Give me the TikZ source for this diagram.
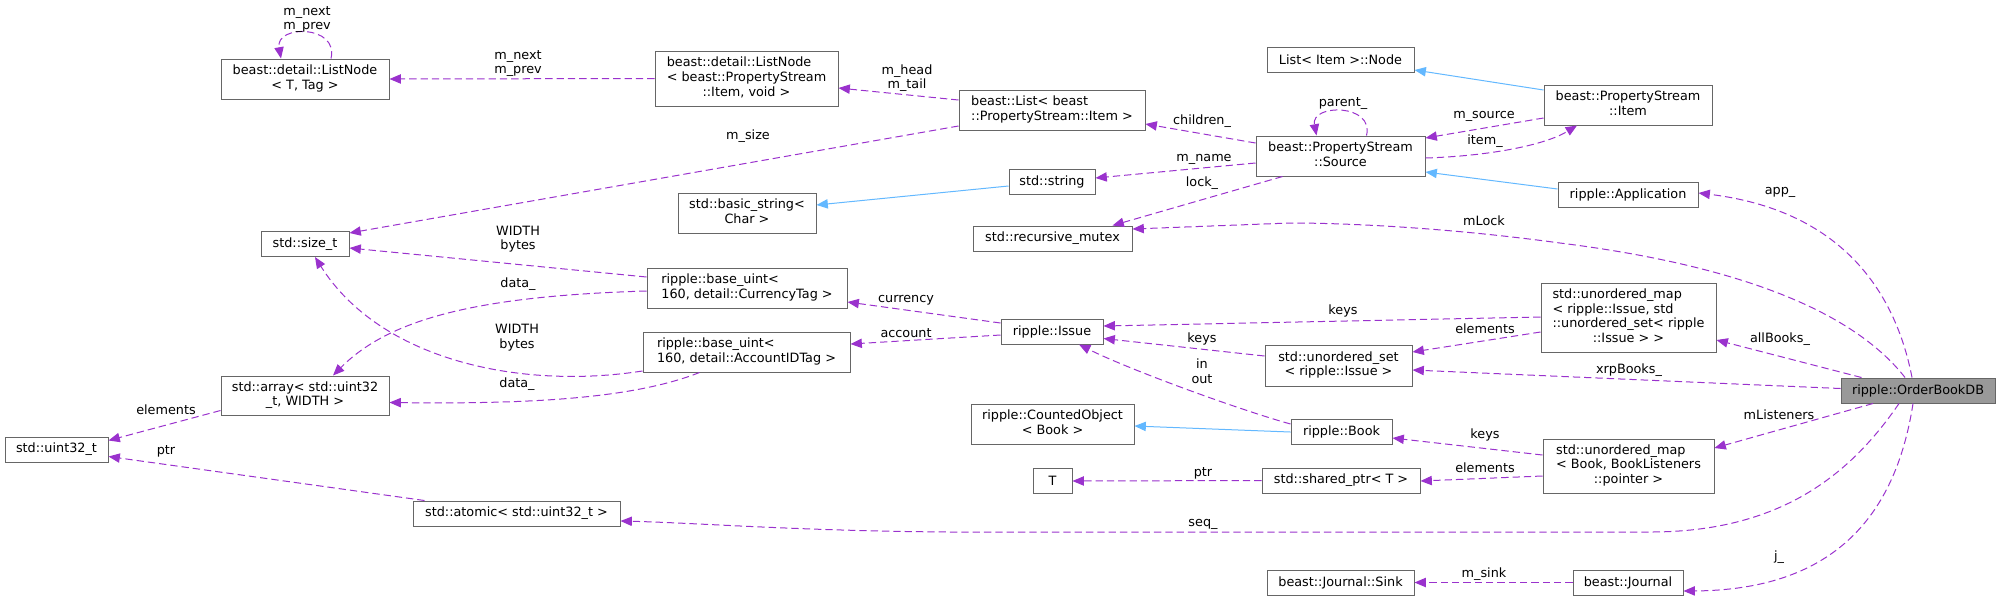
\documentclass[tikz,border=0pt]{standalone}
\usepackage{fontspec}
\setmainfont{DejaVu Sans}
\usetikzlibrary{arrows.meta,calc}

\definecolor{memberc}{HTML}{9A32CD}
\definecolor{inheritc}{HTML}{63B8FF}
\definecolor{boxline}{HTML}{666666}
\definecolor{boxfocus}{HTML}{999999}

\newcommand{\lastln}[1]{\multicolumn{1}{@{}c@{}}{#1}}
\newcommand{\clslines}[1]{\begin{tabular}{@{}l@{}}#1\end{tabular}}

\tikzset{
  cls/.style={draw=boxline, fill=white, line width=0.75pt, inner sep=0pt,
    font=\fontsize{9.6}{11}\selectfont},
  sz/.style 2 args={minimum width=#1*0.75pt, minimum height=#2*0.75pt},
  lbl/.style={inner sep=0pt, align=center, font=\fontsize{9.6}{11}\selectfont},
  member/.style={draw=memberc, line width=0.75pt, dash pattern=on 5.5pt off 3pt,
    -{Triangle[length=8.5pt,width=7pt]}},
  inherit/.style={draw=inheritc, line width=0.75pt,
    -{Triangle[length=8.5pt,width=7pt]}}
}

\begin{document}
\begin{tikzpicture}[x=0.75pt, y=-0.75pt]
\useasboundingbox (0,0) rectangle (2001,601);

% Classes, column by column
\node[cls, sz={103}{25}] (uint) at (56.5,449.5) {std::uint32\_t};

\node[cls, sz={168}{40}] (tListNode) at (305,79) {\clslines{beast::detail::ListNode\\\lastln{< T, Tag >}}};
\node[cls, sz={88}{25}] (sizeT) at (305,244) {std::size\_t};
\node[cls, sz={168}{39}] (stdArray) at (305,395.5) {\clslines{std::array< std::uint32\\\lastln{\_t, WIDTH >}}};

\node[cls, sz={207}{25}] (atomicU) at (516.5,513.5) {std::atomic< std::uint32\_t >};

\node[cls, sz={183}{55}] (itemListNode) at (746.5,78.5) {\clslines{beast::detail::ListNode\\< beast::PropertyStream\\\lastln{::Item, void >}}};
\node[cls, sz={138}{40}] (basicString) at (747,213) {\clslines{std::basic\_string<\\\lastln{Char >}}};
\node[cls, sz={200}{40}] (currencyUint) at (747,288) {\clslines{ripple::base\_uint<\\\lastln{160, detail::CurrencyTag >}}};
\node[cls, sz={207}{40}] (accountUint) at (746.5,352) {\clslines{ripple::base\_uint<\\\lastln{160, detail::AccountIDTag >}}};

\node[cls, sz={186}{40}] (itemList) at (1052,110) {\clslines{beast::List< beast\\\lastln{::PropertyStream::Item >}}};
\node[cls, sz={86}{25}] (stdString) at (1052,181.5) {std::string};
\node[cls, sz={159}{25}] (recMutex) at (1052.5,238.5) {std::recursive\_mutex};
\node[cls, sz={102}{25}] (issue) at (1052,331.5) {ripple::Issue};
\node[cls, sz={163}{40}] (countedBook) at (1052.5,424) {\clslines{ripple::CountedObject\\\lastln{< Book >}}};
\node[cls, sz={39}{25}] (tType) at (1052.5,481) {T};

\node[cls, sz={147}{25}] (itemNode) at (1340.5,59.5) {List< Item >::Node};
\node[cls, sz={169}{40}] (source) at (1340.5,156) {\clslines{beast::PropertyStream\\\lastln{::Source}}};
\node[cls, sz={147}{41}] (issueSet) at (1338.5,365.5) {\clslines{std::unordered\_set\\\lastln{< ripple::Issue >}}};
\node[cls, sz={101}{25}] (book) at (1341.5,431.5) {ripple::Book};
\node[cls, sz={158}{25}] (sharedPtr) at (1341,480.5) {std::shared\_ptr< T >};
\node[cls, sz={147}{25}] (journalSink) at (1340.5,582.5) {beast::Journal::Sink};

\node[cls, sz={168}{40}] (item) at (1628,105) {\clslines{beast::PropertyStream\\\lastln{::Item}}};
\node[cls, sz={140}{25}] (application) at (1628,194.5) {ripple::Application};
\node[cls, sz={175}{69}] (issueMap) at (1628.5,317.5) {\clslines{std::unordered\_map\\< ripple::Issue, std\\::unordered\_set< ripple\\\lastln{::Issue > >}}};
\node[cls, sz={171}{54}] (bookMap) at (1628.5,466) {\clslines{std::unordered\_map\\< Book, BookListeners\\\lastln{::pointer >}}};
\node[cls, sz={110}{25}] (journal) at (1628,582.5) {beast::Journal};

% the documented class
\node[cls, fill=boxfocus, sz={154}{25}] (orderBookDB) at (1918,390.5) {ripple::OrderBookDB};

% ListNode members
\draw[member] ($(tListNode.north)+(26,0)$) .. controls ($(tListNode.north)+(34,-34)$) and ($(tListNode.north)+(-30,-34)$) .. ($(tListNode.north)+(-24,0)$);
\node[lbl] (lblLoopNext) at (307,19.5) {m\_next\\m\_prev};
\draw[member] (itemListNode.west) -- (tListNode.east);
\node[lbl] (lblNext) at (518,63.5) {m\_next\\m\_prev};

% List and PropertyStream
\draw[member] ($(itemList.west)+(0,-10)$) -- ($(itemListNode.east)+(0,9.5)$);
\node[lbl] (lblHead) at (907,78) {m\_head\\m\_tail};
\draw[member] ($(itemList.west)+(0,16)$) -- ($(sizeT.east)+(0,-11)$);
\node[lbl] (lblSize) at (748,136) {m\_size};
\draw[member] ($(source.west)+(0,-13)$) -- ($(itemList.east)+(0,14)$);
\node[lbl] (lblChildren) at (1202,121) {children\_};
\draw[member] ($(source.north)+(26,0)$) .. controls ($(source.north)+(34,-32)$) and ($(source.north)+(-30,-32)$) .. ($(source.north)+(-24,0)$);
\node[lbl] (lblParent) at (1343,104) {parent\_};
\draw[member] ($(item.west)+(0,13)$) -- ($(source.east)+(0,-18)$);
\node[lbl] (lblSource) at (1484,116) {m\_source};
\draw[member] ($(source.east)+(0,2)$) .. controls (1490,156) and (1545,145) .. ($(item.south)+(-51,0)$);
\node[lbl] (lblItem) at (1485,141) {item\_};
\draw[inherit] ($(item.west)+(0,-15)$) -- ($(itemNode.east)+(0,10.5)$);
\draw[member] ($(source.west)+(0,7)$) -- ($(stdString.east)+(0,-3.5)$);
\node[lbl] (lblName) at (1204,159) {m\_name};
\draw[inherit] ($(stdString.west)+(0,4.5)$) -- ($(basicString.east)+(0,-8)$);
\draw[member] ($(source.south)+(-58,0)$) -- ($(recMutex.north)+(60,0)$);
\node[lbl] (lblLock) at (1202,183) {lock\_};
\draw[inherit] ($(application.west)+(0,-5.5)$) -- ($(source.east)+(0,16)$);

% base_uint members
\draw[member] ($(currencyUint.west)+(0,-11)$) -- ($(sizeT.east)+(0,4)$);
\node[lbl] (lblWidth) at (518,239) {WIDTH\\bytes};
\draw[member] ($(currencyUint.west)+(0,3)$) .. controls (480,296) and (390,318) .. ($(stdArray.north)+(28,0)$);
\node[lbl] (lblData) at (518,284) {data\_};
\draw[member] ($(accountUint.west)+(0,19)$) .. controls (520,390) and (380,360) .. ($(sizeT.south)+(10,0)$);
\node[lbl] (lblWidthAcc) at (517,337.5) {WIDTH\\bytes};
\draw[member] ($(accountUint.south)+(-47,0)$) .. controls (630,400) and (520,404) .. ($(stdArray.east)+(0,7)$);
\node[lbl] (lblDataAcc) at (517,384) {data\_};
\draw[member] ($(stdArray.west)+(0,15)$) -- ($(uint.east)+(0,-9)$);
\node[lbl] (lblElements) at (166,410) {elements};
\draw[member] ($(atomicU.north west)+(12,0)$) -- ($(uint.east)+(0,7)$);
\node[lbl] (lblPtr) at (166,451) {ptr};

% Issue and Book
\draw[member] ($(issue.west)+(0,-8.5)$) -- ($(currencyUint.east)+(0,14)$);
\node[lbl] (lblCurrency) at (906,300) {currency};
\draw[member] ($(issue.west)+(0,3.5)$) -- ($(accountUint.east)+(0,-8)$);
\node[lbl] (lblAccount) at (906,333) {account};
\draw[member] ($(issueMap.west)+(0,-0.5)$) -- ($(issue.east)+(0,-5.5)$);
\node[lbl] (lblKeys) at (1343,311) {keys};
\draw[member] ($(issueMap.west)+(0,14.5)$) -- ($(issueSet.east)+(0,-13.5)$);
\node[lbl] (lblElemSet) at (1485,329) {elements};
\draw[member] ($(issueSet.west)+(0,-9.5)$) -- ($(issue.east)+(0,7)$);
\node[lbl] (lblKeysSet) at (1202,339) {keys};
\draw[member] ($(book.west)+(0,-7.5)$) .. controls (1240,410) and (1130,370) .. ($(issue.south)+(27,0)$);
\node[lbl] (lblInOut) at (1202,371.5) {in\\out};
\draw[inherit] ($(book.west)+(0,0.5)$) -- ($(countedBook.east)+(0,2)$);
\draw[member] ($(bookMap.west)+(0,-11)$) -- ($(book.east)+(0,6.5)$);
\node[lbl] (lblKeysBook) at (1485,435) {keys};
\draw[member] ($(bookMap.west)+(0,10)$) -- ($(sharedPtr.east)+(0,0.5)$);
\node[lbl] (lblElemBook) at (1485,468) {elements};
\draw[member] (sharedPtr.west) -- (tType.east);
\node[lbl] (lblPtrT) at (1203,473) {ptr};

% OrderBookDB members
\draw[member] ($(orderBookDB.north)+(-6,0)$) .. controls (1895,290) and (1840,210) .. ($(application.east)+(0,-1.5)$);
\node[lbl] (lblApp) at (1780,192) {app\_};
\draw[member] ($(orderBookDB.north)+(-13,0)$) .. controls (1860,320) and (1760,268) .. (1560,243) .. controls (1450,228) and (1350,223) .. (1290,223) -- ($(recMutex.east)+(0,-9.5)$);
\node[lbl] (lblMLock) at (1484,221) {mLock};
\draw[member] ($(orderBookDB.north west)+(21,0)$) -- ($(issueMap.east)+(0,22.5)$);
\node[lbl] (lblAllBooks) at (1780,339) {allBooks\_};
\draw[member] ($(orderBookDB.west)+(0,-2)$) -- ($(issueSet.east)+(0,4.5)$);
\node[lbl] (lblXrp) at (1629,370) {xrpBooks\_};
\draw[member] ($(orderBookDB.south)+(-45,0)$) -- ($(bookMap.east)+(0,-18)$);
\node[lbl] (lblListeners) at (1779,415) {mListeners};
\draw[member] ($(orderBookDB.south)+(-19,0)$) .. controls (1850,475) and (1780,532) .. (1650,532) -- (950,532) .. controls (800,531) and (700,523) .. ($(atomicU.east)+(0,7.5)$);
\node[lbl] (lblSeq) at (1203,524) {seq\_};
\draw[member] ($(orderBookDB.south)+(-5,0)$) .. controls (1895,520) and (1830,590) .. ($(journal.east)+(0,8.5)$);
\node[lbl] (lblJ) at (1779,557) {j\_};
\draw[member] (journal.west) -- (journalSink.east);
\node[lbl] (lblSink) at (1484,574) {m\_sink};
\end{tikzpicture}
\end{document}
